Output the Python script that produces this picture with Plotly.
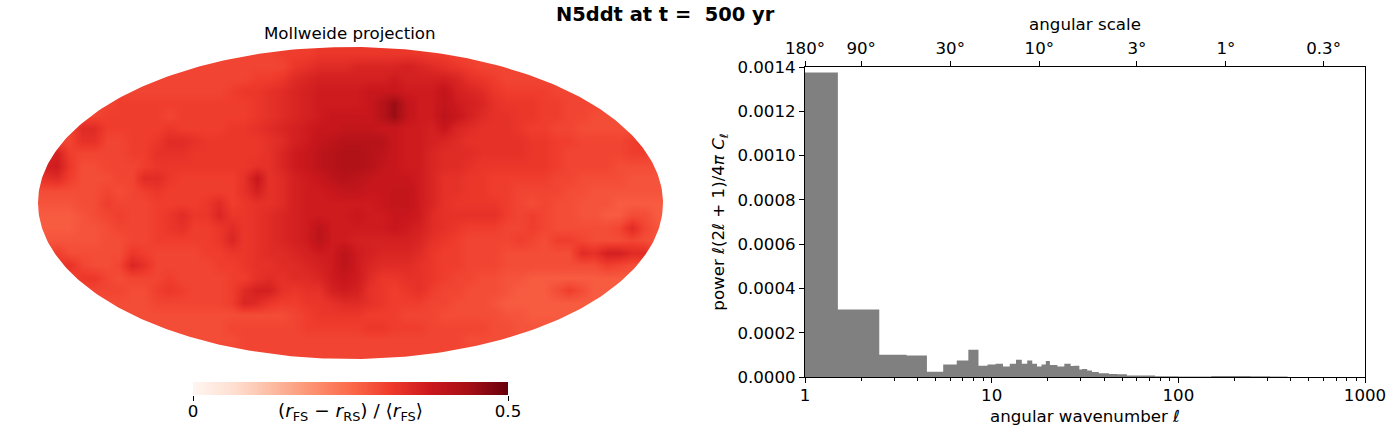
import numpy as np
import plotly.graph_objects as go

W, H = 1400, 444
FONT = "DejaVu Sans"

# ---- spectrum values ----
ell_single = list(range(1, 43))
power_single = [
    1.375e-3, 3.05e-4, 1.00e-4, 9.7e-5, 2.4e-5, 5.6e-5, 7.4e-5, 1.23e-4, 5.1e-5, 5.6e-5,
    6.0e-5, 4.7e-5, 6.0e-5, 7.8e-5, 6.0e-5, 7.4e-5, 6.0e-5, 4.7e-5, 5.6e-5, 7.2e-5,
    5.4e-5, 5.4e-5, 4.7e-5, 4.7e-5, 6.0e-5, 6.0e-5, 5.0e-5, 5.1e-5, 5.1e-5, 3.4e-5,
    3.6e-5, 3.6e-5, 2.9e-5, 2.9e-5, 2.3e-5, 2.3e-5, 2.3e-5, 1.7e-5, 1.7e-5, 1.7e-5,
    1.7e-5, 1.7e-5,
]
band_edges = [42.5, 47, 53, 65, 75, 100, 150, 243, 310, 385, 1000]
band_power = [1.4e-5, 1.2e-5, 7e-6, 7e-6, 3e-6, 2e-6, 5e-6, 3e-6, 2e-6, 0.0]

scale_ell = [1, 2, 6, 18, 60, 180, 600]
scale_labels = ["180°", "90°", "30°", "10°", "3°", "1°", "0.3°"]
wavenumber_ticks = [1, 10, 100, 1000]
wavenumber_minor = [2, 3, 4, 5, 6, 7, 8, 9, 20, 30, 40, 50, 60, 70, 80, 90,
                    200, 300, 400, 500, 600, 700, 800, 900]
power_ticks = [0, 0.0002, 0.0004, 0.0006, 0.0008, 0.0010, 0.0012, 0.0014]
colorbar_ticks = [0, 50]
colorbar_labels = ["0", "0.5"]

# ---- sky map values, in hundredths, top row first ----
SKY = [
 [30,30,30,30,30,30,30,30,30,30, 30,30,30,30,30,30,30,30,30,31, 31,31,32,32,32,32,32,32,32,32, 32,31,31,30,30,30,30,30,30,30, 30,30,30,30,30,30,30,30,30,30],
 [30,30,30,30,30,30,30,30,30,30, 30,30,30,30,30,30,30,30,30,30, 32,33,34,34,34,35,35,35,35,36, 35,34,33,32,31,30,30,30,30,30, 30,30,30,30,30,30,30,30,30,30],
 [30,30,30,30,30,30,30,30,30,30, 30,30,30,30,30,30,30,31,31,32, 34,35,36,36,36,36,36,36,37,36, 36,36,36,35,33,32,31,30,30,30, 30,30,30,30,30,30,30,30,30,30],
 [30,30,30,30,30,30,30,30,30,30, 30,30,30,30,30,31,32,32,33,34, 35,36,37,37,37,37,38,38,38,37, 37,37,39,36,35,34,32,31,31,31, 31,30,30,30,30,30,30,30,30,30],
 [30,30,30,30,30,30,31,31,31,31, 31,31,31,31,31,31,31,32,33,34, 35,36,37,37,37,37,38,41,45,39, 37,37,39,37,36,35,33,32,32,32, 31,31,30,30,30,30,30,30,30,30],
 [29,29,29,30,30,31,31,31,31,31, 30,31,31,31,31,31,31,32,33,34, 35,36,37,38,38,38,38,41,45,39, 37,37,40,38,36,34,33,33,32,32, 31,31,30,30,29,29,29,29,29,29],
 [29,29,30,34,34,31,31,31,31,31, 32,31,31,31,31,32,32,33,34,35, 36,37,38,38,39,39,39,38,38,37, 37,36,38,35,34,33,33,33,32,31, 31,30,30,29,29,29,29,29,29,29],
 [30,30,30,33,33,30,30,31,31,32, 34,34,33,32,32,32,32,32,33,34, 36,37,39,40,41,41,41,41,38,37, 37,36,35,34,33,33,33,33,33,32, 32,31,31,30,30,30,30,31,32,31],
 [35,36,31,30,30,30,30,31,31,33, 33,33,32,32,32,32,32,32,33,35, 37,38,40,41,42,42,41,40,38,37, 37,35,34,34,34,33,33,33,33,32, 32,31,30,30,30,30,30,31,31,29],
 [36,37,32,29,29,30,30,30,31,32, 32,32,32,32,32,32,32,33,33,35, 37,38,40,41,42,42,41,39,38,37, 37,35,34,34,33,32,32,32,32,32, 32,31,30,30,30,30,29,29,29,29],
 [33,34,31,29,29,29,30,30,34,34, 32,31,31,31,31,31,33,38,33,34, 36,37,38,40,41,40,39,38,38,38, 37,35,33,33,32,32,31,31,31,31, 31,30,30,29,29,29,29,28,28,28],
 [29,29,29,29,29,30,29,30,31,32, 31,31,31,31,31,31,33,36,33,34, 36,37,37,38,39,39,38,38,39,39, 37,35,33,33,32,32,31,31,30,30, 30,30,29,29,28,28,28,28,28,28],
 [28,28,28,29,29,31,30,30,30,31, 31,31,31,32,34,31,32,33,33,34, 36,37,37,37,37,37,37,38,39,39, 37,35,33,32,32,32,32,31,30,29, 30,29,29,28,28,28,27,27,27,27],
 [27,27,27,28,29,30,31,30,30,31, 32,34,32,32,35,32,32,33,34,35, 36,37,37,37,37,38,37,37,38,38, 37,34,33,33,33,33,33,31,30,31, 30,29,29,28,28,27,27,29,29,27],
 [27,27,27,28,28,29,30,30,30,31, 32,33,31,31,32,34,32,33,34,35, 36,37,40,37,37,37,37,37,38,37, 36,34,33,32,31,31,31,30,30,31, 30,29,29,29,29,29,30,34,30,28],
 [28,28,28,28,28,29,29,30,30,31, 31,31,31,31,32,35,32,33,34,35, 36,37,40,37,37,36,36,36,36,36, 35,33,32,31,30,30,30,30,31,30, 29,31,31,30,29,29,29,30,29,28],
 [29,31,29,29,29,29,29,32,31,30, 30,30,30,31,31,32,32,33,34,34, 35,36,37,37,40,37,36,35,35,35, 34,32,31,31,30,30,30,29,29,29, 29,29,29,34,33,36,36,34,34,30],
 [29,32,33,30,29,29,30,35,33,30, 30,30,30,30,31,31,32,33,33,34, 34,35,36,37,40,37,35,34,34,34, 33,32,31,31,30,30,30,29,29,29, 29,29,29,29,29,31,30,29,29,29],
 [30,30,30,32,32,30,29,30,30,30, 31,30,30,30,30,31,31,33,34,33, 34,34,35,37,38,37,34,32,32,33, 33,32,31,30,30,29,29,28,28,27, 27,27,27,27,27,27,27,27,27,27],
 [30,30,30,30,30,30,30,29,29,31, 32,31,30,30,30,31,34,36,36,33, 32,33,33,36,37,36,33,32,31,32, 33,31,30,30,29,29,29,28,27,27, 27,29,31,29,27,27,27,27,27,27],
 [29,29,29,29,29,29,29,29,29,30, 30,30,30,30,30,31,35,34,32,31, 31,32,32,33,34,34,33,32,31,31, 31,30,30,29,29,29,28,27,27,27, 27,27,27,27,27,27,27,27,27,27],
 [29,29,29,29,29,29,29,29,29,29, 29,29,29,29,29,29,29,29,29,29, 30,31,32,32,32,32,31,31,31,30, 30,30,29,29,29,29,29,28,28,27, 27,27,27,27,27,27,27,27,27,27],
 [29,29,29,29,29,29,29,29,29,29, 29,29,29,29,29,30,30,30,30,30, 30,31,31,31,31,31,32,32,31,31, 31,30,30,30,30,30,29,29,28,28, 28,28,28,28,28,28,28,28,28,28],
 [29,29,29,29,29,29,29,29,29,29, 29,29,29,29,29,29,30,30,30,30, 30,30,30,30,30,30,30,30,30,30, 30,30,30,30,29,29,29,29,29,29, 29,29,29,29,29,29,29,29,29,29],
 [30,30,30,30,30,30,30,30,30,30, 30,30,30,30,30,30,30,30,30,30, 30,30,30,30,30,30,30,30,30,30, 30,30,30,30,30,30,30,30,30,30, 30,30,30,30,30,30,30,30,30,30],
]
REDS = [[0, "#fff5f0"], [0.125, "#fee0d2"], [0.25, "#fcbba1"], [0.375, "#fc9272"],
        [0.5, "#fb6a4a"], [0.625, "#ef3b2c"], [0.75, "#cb181d"], [0.875, "#a50f15"], [1, "#67000d"]]

# ---- spectrum as a step outline ----
edges = [e - 0.5 for e in ell_single] + band_edges
power = power_single + band_power
step_x = edges
step_y = power + [power[-1]]

# ---- sky map ----
rows = len(SKY)
cols = len(SKY[0])
cell_x = (np.arange(cols) + 0.5) / cols * 2 - 1
cell_y = 1 - (np.arange(rows) + 0.5) / rows * 2

# white surround that gives the map its elliptical outline
theta = np.linspace(np.pi, 3 * np.pi, 361)
mask_x = [-1.2, -1.2, 1.2, 1.2, -1.2, -1.2, -1] + list(np.cos(theta)) + [-1.2]
mask_y = [0, 1.2, 1.2, -1.2, -1.2, 0, 0] + list(np.sin(theta)) + [0]

# colour ramp of the colour bar
ramp = np.linspace(0, 50, 316)

fig = go.Figure()
fig.add_trace(go.Heatmap(
    z=SKY[::-1], x=cell_x, y=cell_y[::-1], zmin=0, zmax=50, zsmooth="best",
    colorscale=REDS, xaxis="x", yaxis="y", hoverinfo="skip", showscale=False,
))
fig.add_trace(go.Scatter(
    x=mask_x, y=mask_y, mode="lines", fill="toself", fillcolor="white",
    line=dict(width=0), xaxis="x", yaxis="y", hoverinfo="skip", showlegend=False,
))
fig.add_trace(go.Heatmap(
    z=[list(ramp)], x=ramp, y=[0], zmin=0, zmax=50, colorscale=REDS,
    xaxis="x4", yaxis="y4", hoverinfo="skip", showscale=False,
))
fig.add_trace(go.Scatter(
    x=step_x, y=step_y, mode="lines", line=dict(width=0, shape="hv", color="gray"),
    fill="tozeroy", fillcolor="gray", xaxis="x2", yaxis="y2", showlegend=False,
))
fig.add_trace(go.Scatter(
    x=scale_ell, y=[None] * len(scale_ell), mode="lines", xaxis="x3", yaxis="y2",
    showlegend=False, hoverinfo="skip",
))

tick_font = dict(family=FONT, size=16.67, color="black")
title_font = dict(family=FONT, size=16.67, color="black")
hidden = dict(visible=False, showgrid=False, zeroline=False, fixedrange=True, automargin=False)
dom_x2 = [805 / W, 1365 / W]
dom_y2 = [1 - 377 / H, 1 - 67 / H]
PAD = 1.02
pad_x = (PAD - 1) * 312.5
pad_y = (PAD - 1) * 156

fig.update_layout(
    width=W, height=H, margin=dict(l=0, r=0, t=0, b=0),
    paper_bgcolor="white", plot_bgcolor="white", showlegend=False,
    font=dict(family=FONT, color="black"),
    xaxis=dict(domain=[(38 - pad_x) / W, (663 + pad_x) / W], range=[-PAD, PAD], **hidden),
    yaxis=dict(domain=[1 - (359 + pad_y) / H, 1 - (47 - pad_y) / H], range=[-PAD, PAD], **hidden),
    xaxis4=dict(
        domain=[193 / W, 508 / W], range=[0, 50], anchor="y4", automargin=False,
        tickmode="array", tickvals=colorbar_ticks, ticktext=colorbar_labels,
        ticks="outside", ticklen=5, tickwidth=1, tickcolor="black", tickfont=tick_font,
        ticklabelstandoff=-4, showgrid=False, zeroline=False, showline=False,
    ),
    yaxis4=dict(domain=[1 - 395 / H, 1 - 382 / H], range=[-0.5, 0.5], visible=False, automargin=False),
    xaxis2=dict(
        domain=dom_x2, type="log", range=[0, 3], anchor="y2", automargin=False,
        tickmode="array", tickvals=wavenumber_ticks, ticktext=[str(v) for v in wavenumber_ticks],
        ticks="outside", ticklen=5, tickwidth=1, tickcolor="black", tickfont=tick_font,
        ticklabelstandoff=-2, showgrid=False, zeroline=False, showline=True, linecolor="black", linewidth=1, mirror=False,
        minor=dict(tickmode="array", tickvals=wavenumber_minor, ticks="outside", ticklen=3,
                   tickwidth=1, tickcolor="black", showgrid=False),
        title=dict(text="angular wavenumber <i>ℓ</i>", font=title_font, standoff=6),
    ),
    yaxis2=dict(
        domain=dom_y2, range=[0, 0.0014], anchor="x2", automargin=False,
        tickmode="array", tickvals=power_ticks, tickformat=".4f",
        ticks="outside", ticklen=5, tickwidth=1, tickcolor="black", tickfont=tick_font,
        showgrid=False, zeroline=False, showline=True, linecolor="black", linewidth=1, mirror=True,
        title=dict(text="power <i>ℓ</i>(2<i>ℓ</i> + 1)/4<i>π C<sub>ℓ</sub></i>", font=title_font, standoff=8),
    ),
    xaxis3=dict(
        domain=dom_x2, type="log", range=[0, 3], anchor="y2", overlaying="x2", side="top", automargin=False,
        tickmode="array", tickvals=scale_ell, ticktext=scale_labels,
        ticks="outside", ticklen=5, tickwidth=1, tickcolor="black", tickfont=tick_font,
        showgrid=False, zeroline=False, showline=True, linecolor="black", linewidth=1,
        title=dict(text="angular scale", font=title_font, standoff=4),
    ),
    annotations=[
        dict(text="<b>N5ddt at t =  500 yr</b>", x=665 / W, y=1 - 14 / H, xref="paper", yref="paper",
             xanchor="center", yanchor="middle", showarrow=False,
             font=dict(family=FONT, size=19.44, color="black")),
        dict(text="Mollweide projection", x=350 / W, y=1 - 33 / H, xref="paper", yref="paper",
             xanchor="center", yanchor="middle", showarrow=False,
             font=dict(family=FONT, size=16.67, color="black")),
        dict(text="(<i>r</i><sub>FS</sub> − <i>r</i><sub>RS</sub>) / ⟨<i>r</i><sub>FS</sub>⟩",
             x=350 / W, y=1 - 412 / H, xref="paper", yref="paper",
             xanchor="center", yanchor="middle", showarrow=False,
             font=dict(family=FONT, size=18.5, color="black")),
    ],
)

fig.write_html("out.html", config=dict(displayModeBar=False),
               post_script="document.body.style.margin='0';document.body.style.overflow='hidden';")
